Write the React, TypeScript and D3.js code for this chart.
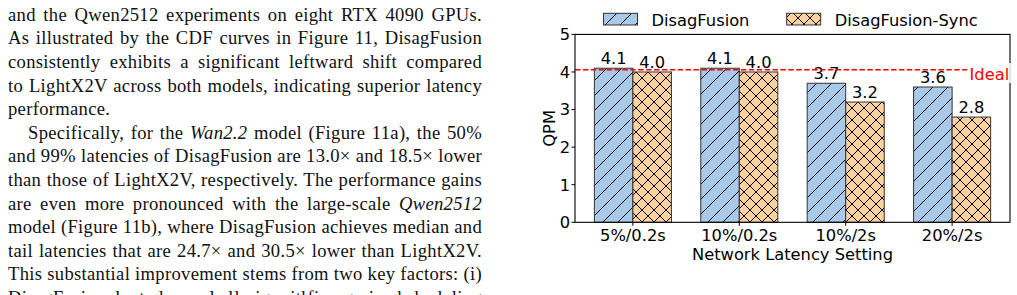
import React, { useEffect, useRef } from 'react';
import * as d3 from 'd3';

// QPM under different network latency settings
const settings = ['5%/0.2s', '10%/0.2s', '10%/2s', '20%/2s'];
const seriesNames = ['DisagFusion', 'DisagFusion-Sync'];
const disagFusionQpm = [4.1, 4.1, 3.7, 3.6];
const disagFusionSyncQpm = [4.0, 4.0, 3.2, 2.8];
const idealQpm = 4.06;
const yTicks = [0, 1, 2, 3, 4, 5];

// body text column next to the figure (*...* marks italics)
const bodyLines = [
  'and the Qwen2512 experiments on eight RTX 4090 GPUs.',
  'As illustrated by the CDF curves in Figure 11, DisagFusion',
  'consistently exhibits a significant leftward shift compared',
  'to LightX2V across both models, indicating superior latency',
  'performance.',
  'Specifically, for the *Wan2.2* model (Figure 11a), the 50%',
  'and 99% latencies of DisagFusion are 13.0× and 18.5× lower',
  'than those of LightX2V, respectively. The performance gains',
  'are even more pronounced with the large-scale *Qwen2512*',
  'model (Figure 11b), where DisagFusion achieves median and',
  'tail latencies that are 24.7× and 30.5× lower than LightX2V.',
  'This substantial improvement stems from two key factors: (i)',
  'DisagFusion adopts a decoupled design with fine-grained scheduling',
];
const indentLines = [5];
const raggedLines = [4];

const BLUE = '#a9c9e9';
const ORANGE = '#fed29e';

const App = () => {
  const svgRef = useRef(null);

  useEffect(() => {
    const svg = d3.select(svgRef.current);
    svg.selectAll('*').remove();

    // ---- text column ----
    const body = svg.append('g')
      .style('font-family', '"Liberation Serif", "DejaVu Serif", serif')
      .style('font-size', '18.6px')
      .style('letter-spacing', '0.3px')
      .attr('fill', '#111');

    const textRight = 482;
    bodyLines.forEach((line, i) => {
      const x0 = indentLines.includes(i) ? 28 : 8;
      const t = body.append('text')
        .attr('x', x0)
        .attr('y', 20.7 + i * 23.6);
      line.split('*').forEach((part, k) => {
        if (!part) return;
        t.append('tspan')
          .style('font-style', k % 2 === 1 ? 'italic' : 'normal')
          .text(part);
      });
      if (!raggedLines.includes(i)) {
        const node = t.node() as SVGTextElement;
        const len = node.getComputedTextLength();
        const spaces = (line.match(/ /g) || []).length;
        if (spaces > 0) {
          t.style('word-spacing', `${(textRight - x0 - len) / spaces}px`);
        }
      }
    });

    // ---- chart ----
    const left = 575, right = 1010, top = 34.4, bottom = 222.3;

    const x = d3.scaleBand()
      .domain(settings)
      .range([left, right])
      .paddingInner(0.276)
      .paddingOuter(0.182);

    const xSub = d3.scaleBand()
      .domain(seriesNames)
      .range([0, x.bandwidth()]);

    const y = d3.scaleLinear()
      .domain([0, 5])
      .range([bottom, top]);

    const defs = svg.append('defs');
    const hatch = (id, fill, s, cross) => {
      const p = defs.append('pattern')
        .attr('id', id)
        .attr('patternUnits', 'userSpaceOnUse')
        .attr('width', s)
        .attr('height', s);
      p.append('rect').attr('width', s).attr('height', s).attr('fill', fill);
      let d = `M0,${s}L${s},0M${-s / 2},${s / 2}L${s / 2},${-s / 2}M${s / 2},${1.5 * s}L${1.5 * s},${s / 2}`;
      if (cross) {
        d += `M0,0L${s},${s}M${-s / 2},${s / 2}L${s / 2},${1.5 * s}M${s / 2},${-s / 2}L${1.5 * s},${s / 2}`;
      }
      p.append('path').attr('d', d).attr('stroke', '#000').attr('stroke-width', 1).attr('fill', 'none');
    };
    hatch('hatchFwd', BLUE, 15, false);
    hatch('hatchCross', ORANGE, 12, true);
    const fills = ['url(#hatchFwd)', 'url(#hatchCross)'];

    const chart = svg.append('g')
      .style('font-family', '"DejaVu Sans", sans-serif')
      .style('font-size', '16.3px');

    const rows = settings.map((s, i) => ({
      setting: s,
      values: [disagFusionQpm[i], disagFusionSyncQpm[i]],
    }));

    rows.forEach((row) => {
      row.values.forEach((v, j) => {
        const bx = x(row.setting) + xSub(seriesNames[j]);
        chart.append('rect')
          .attr('x', bx)
          .attr('y', y(v))
          .attr('width', xSub.bandwidth())
          .attr('height', y(0) - y(v))
          .attr('fill', fills[j])
          .attr('stroke', '#333')
          .attr('stroke-width', 1);
        chart.append('text')
          .attr('x', bx + xSub.bandwidth() / 2)
          .attr('y', y(v) - 3.8)
          .attr('text-anchor', 'middle')
          .attr('fill', '#000')
          .text(v.toFixed(1));
      });
    });

    // ideal reference line
    chart.append('line')
      .attr('x1', left)
      .attr('x2', 972)
      .attr('y1', y(idealQpm))
      .attr('y2', y(idealQpm))
      .attr('stroke', 'red')
      .attr('stroke-width', 1.3)
      .attr('stroke-dasharray', '5.5,2.4');

    // axes frame
    chart.append('rect')
      .attr('x', left)
      .attr('y', top)
      .attr('width', right - left)
      .attr('height', bottom - top)
      .attr('fill', 'none')
      .attr('stroke', '#000')
      .attr('stroke-width', 1.1);

    // y ticks
    yTicks.forEach((t) => {
      chart.append('line')
        .attr('x1', left - 3.5)
        .attr('x2', left)
        .attr('y1', y(t))
        .attr('y2', y(t))
        .attr('stroke', '#000');
      chart.append('text')
        .attr('x', left - 5)
        .attr('y', y(t))
        .attr('dy', '0.36em')
        .attr('text-anchor', 'end')
        .text(t);
    });

    // x ticks
    settings.forEach((s) => {
      const cx = x(s) + x.bandwidth() / 2;
      chart.append('line')
        .attr('x1', cx)
        .attr('x2', cx)
        .attr('y1', bottom)
        .attr('y2', bottom + 3.5)
        .attr('stroke', '#000');
      chart.append('text')
        .attr('x', cx)
        .attr('y', 241)
        .attr('text-anchor', 'middle')
        .text(s);
    });

    chart.append('text')
      .attr('x', (left + right) / 2)
      .attr('y', 259.5)
      .attr('text-anchor', 'middle')
      .text('Network Latency Setting');

    chart.append('text')
      .attr('transform', `translate(554.5,${(top + bottom) / 2}) rotate(-90)`)
      .attr('text-anchor', 'middle')
      .text('QPM');

    // "Ideal" tag on a translucent white box
    chart.append('rect')
      .attr('x', 967)
      .attr('y', 63)
      .attr('width', 46)
      .attr('height', 20)
      .attr('fill', '#fff')
      .attr('opacity', 0.8);
    chart.append('text')
      .attr('x', 969.5)
      .attr('y', 79.8)
      .attr('fill', 'red')
      .text('Ideal');

    // legend
    const legendX = [603.5, 786.7];
    seriesNames.forEach((name, j) => {
      chart.append('rect')
        .attr('x', legendX[j])
        .attr('y', 13.3)
        .attr('width', 34)
        .attr('height', 11.7)
        .attr('fill', fills[j])
        .attr('stroke', '#333')
        .attr('stroke-width', 1);
      chart.append('text')
        .attr('x', legendX[j] + 48)
        .attr('y', 26)
        .text(name);
    });
  }, []);

  return (
    <svg
      ref={svgRef}
      width={1017}
      height={295}
      style={{ position: 'absolute', left: 0, top: 0, background: '#fff' }}
    />
  );
};

export default App;
